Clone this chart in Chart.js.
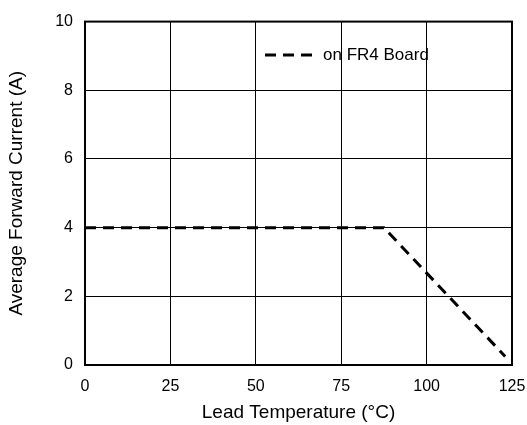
<!DOCTYPE html>
<html>
<head>
<meta charset="utf-8">
<script src="https://cdn.jsdelivr.net/npm/chart.js@4.4.0/dist/chart.umd.min.js"></script>
<style>
  html, body { margin: 0; padding: 0; background: #fff; }
  #wrap { width: 527px; height: 425px; }
</style>
</head>
<body>
<div id="wrap"><canvas id="myChart" width="527" height="425"></canvas></div>
<script>
// derating curve
var temps = [0, 87.5, 123];
var current = [4, 4, 0.25];
var xTicks = [0, 25, 50, 75, 100, 125];
var yTicks = [0, 2, 4, 6, 8, 10];
var seriesName = 'on FR4 Board';

var FONT = 'Liberation Sans, Arial, Helvetica, sans-serif';

// frame + legend drawn inside the plot
var framePlugin = {
    id: 'frame',
    afterDraw: function(chart) {
        var ctx = chart.ctx;
        var a = chart.chartArea;
        ctx.save();
        ctx.strokeStyle = '#000';
        ctx.lineWidth = 2;
        ctx.strokeRect(a.left, a.top, a.right - a.left, a.bottom - a.top);

        // legend
        var lx = 265, ly = 55;
        ctx.lineWidth = 3;
        ctx.setLineDash([11, 7]);
        ctx.beginPath();
        ctx.moveTo(lx, ly);
        ctx.lineTo(lx + 48, ly);
        ctx.stroke();
        ctx.setLineDash([]);
        ctx.fillStyle = '#000';
        ctx.font = '17px ' + FONT;
        ctx.textBaseline = 'middle';
        ctx.fillText(seriesName, lx + 58, ly);
        ctx.restore();
    }
};

var pts = temps.map(function(t, i) { return { x: t, y: current[i] }; });

new Chart(document.getElementById('myChart'), {
    type: 'scatter',
    data: {
        datasets: [{
            label: seriesName,
            data: pts,
            showLine: true,
            borderColor: '#000',
            borderWidth: 3,
            borderDash: [11, 7],
            pointRadius: 0,
            fill: false
        }]
    },
    options: {
        responsive: false,
        animation: false,
        layout: { padding: { left: 0, right: 15, top: 19, bottom: 0 } },
        plugins: {
            legend: { display: false },
            tooltip: { enabled: false }
        },
        scales: {
            x: {
                type: 'linear',
                min: 0,
                max: 125,
                afterBuildTicks: function(s) { s.ticks = xTicks.map(function(v) { return { value: v }; }); },
                afterFit: function(s) { s.height = 60; s.paddingLeft = 0; s.paddingRight = 0; },
                grid: { color: '#000', lineWidth: 1, drawTicks: false },
                border: { color: '#000', width: 2 },
                ticks: { color: '#000', padding: 12, font: { family: FONT, size: 16 }, maxRotation: 0 },
                title: { display: true, text: 'Lead Temperature (°C)', color: '#000', padding: { top: 2, bottom: 1 }, font: { family: FONT, size: 19 } }
            },
            y: {
                min: 0,
                max: 10,
                afterBuildTicks: function(s) { s.ticks = yTicks.map(function(v) { return { value: v }; }); },
                afterFit: function(s) { s.width = 85; },
                grid: { color: '#000', lineWidth: 1, drawTicks: false },
                border: { color: '#000', width: 2 },
                ticks: { color: '#000', padding: 12, font: { family: FONT, size: 16 } },
                title: { display: true, text: 'Average Forward Current (A)', color: '#000', padding: { top: 5, bottom: 0 }, font: { family: FONT, size: 19 } }
            }
        }
    },
    plugins: [framePlugin]
});
</script>
</body>
</html>
